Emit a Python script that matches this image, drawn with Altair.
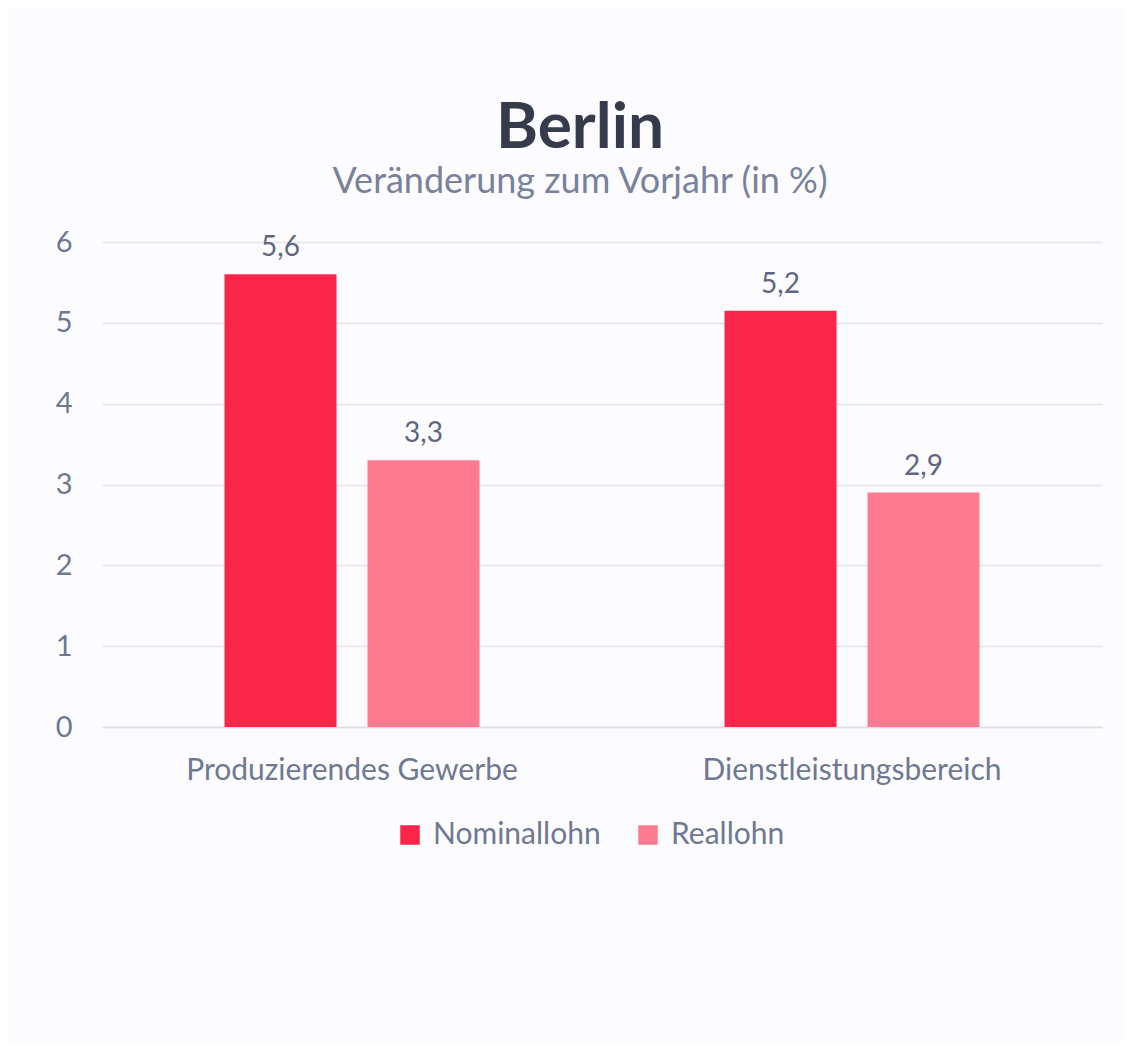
import altair as alt
import pandas as pd

categories = ["Produzierendes Gewerbe", "Dienstleistungsbereich"]
series = ["Nominallohn", "Reallohn"]
nominal = [5.6, 5.15]
real = [3.3, 2.9]
nominal_labels = ["5,6", "5,2"]
real_labels = ["3,3", "2,9"]
colors = ["#fb2449", "#fd7b90"]

rows = []
for i, c in enumerate(categories):
    rows.append({"cat": c, "series": series[0], "value": nominal[i], "label": nominal_labels[i]})
    rows.append({"cat": c, "series": series[1], "value": real[i], "label": real_labels[i]})
df = pd.DataFrame(rows)

FONT = "Lato"
TXT = "#6f7892"

x = alt.X("cat:N", sort=categories, title=None,
          scale=alt.Scale(paddingInner=0, paddingOuter=0),
          axis=alt.Axis(labelAngle=0, labelFontSize=30, labelColor=TXT, labelFont=FONT,
                        labelLimit=0, ticks=False, domain=True, domainColor="#dddde6",
                        domainWidth=1.5, labelPadding=28, grid=False))
xo = alt.XOffset("series:N", sort=series,
                 scale=alt.Scale(paddingInner=0.2168, paddingOuter=0.8566))
y = alt.Y("value:Q", title=None,
          scale=alt.Scale(domain=[0, 6]),
          axis=alt.Axis(values=[0, 1, 2, 3, 4, 5, 6], format="d", labelFontSize=29,
                        labelColor=TXT, labelFont=FONT, ticks=False, domain=False,
                        labelPadding=30, gridColor="#e3e3ea", gridWidth=1.5))

bars = alt.Chart(df).mark_bar().encode(
    x=x, xOffset=xo, y=y,
    color=alt.Color("series:N", sort=series,
                    scale=alt.Scale(domain=series, range=colors),
                    legend=alt.Legend(title=None, orient="none", legendX=293, legendY=578,
                                      direction="horizontal", symbolType="square",
                                      symbolSize=380, symbolStrokeWidth=0,
                                      labelFontSize=30, labelColor=TXT, labelFont=FONT,
                                      labelLimit=0, columnPadding=32, labelOffset=8)),
)

text = alt.Chart(df).mark_text(baseline="alphabetic", dy=-18, fontSize=28,
                               font=FONT, color="#5f6680").encode(
    x=alt.X("cat:N", sort=categories), xOffset=alt.XOffset("series:N", sort=series),
    y="value:Q", text="label:N")

chart = (bars + text).properties(
    width=1000, height=485,
    title=alt.TitleParams(text="Berlin", subtitle="Veränderung zum Vorjahr (in %)",
                          anchor="middle", dx=-22, offset=28,
                          font=FONT, fontSize=64, fontWeight="bold", color="#353b4b",
                          subtitleFont=FONT, subtitleFontSize=36, subtitleColor="#7a819b",
                          subtitlePadding=4),
    autosize=alt.AutoSizeParams(type="none"),
    padding={"left": 94, "top": 234, "right": 22, "bottom": 315},
    background="#fcfcff",
).configure_view(stroke=None)

chart.save("out.html", embed_options={"renderer": "svg", "actions": False})
